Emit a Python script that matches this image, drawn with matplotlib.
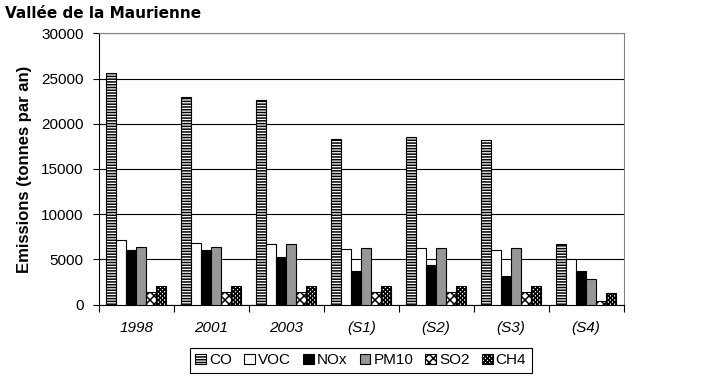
import numpy as np
import matplotlib
matplotlib.use("Agg")
import matplotlib.pyplot as plt

# categories and pollutant series (tonnes per year)
years = ["1998", "2001", "2003", "(S1)", "(S2)", "(S3)", "(S4)"]
pollutants = ["CO", "VOC", "NOx", "PM10", "SO2", "CH4"]
co = [25600, 22900, 22650, 18300, 18500, 18150, 6650]
voc = [7100, 6800, 6700, 6100, 6200, 6000, 5000]
nox = [6000, 6000, 5250, 3750, 4350, 3150, 3750]
pm10 = [6400, 6400, 6700, 6300, 6300, 6200, 2800]
so2 = [1400, 1400, 1400, 1350, 1350, 1350, 350]
ch4 = [2000, 2000, 2100, 2000, 2000, 2000, 1250]
yticks = [0, 5000, 10000, 15000, 20000, 25000, 30000]

series = [co, voc, nox, pm10, so2, ch4]
faces = ["white", "white", "black", "#969696", "white", "white"]
hatches = ["------", None, None, None, "xxxx", "xxxxxxxx"]

plt.rcParams["font.family"] = ["Liberation Sans", "DejaVu Sans"]
plt.rcParams["hatch.linewidth"] = 1.1

fig = plt.figure(figsize=(7.06, 3.78), dpi=100)
ax = fig.add_axes([99 / 706, 1 - 304.5 / 378, 524.5 / 706, 271.2 / 378])

x = np.arange(len(years))
bw = 1 / 7.5
for i, (vals, fc, h) in enumerate(zip(series, faces, hatches)):
    offs = (i - 2.5) * bw
    ax.bar(x + offs, vals, width=bw, color=fc, edgecolor="black",
           linewidth=0.8, hatch=h, label=pollutants[i], zorder=3)

ax.set_xlim(-0.5, len(years) - 0.5)
ax.set_ylim(0, 30000)
ax.set_yticks(yticks)
ax.set_yticklabels([str(v) for v in yticks], fontsize=11)
ax.yaxis.grid(True, color="black", linewidth=0.8, zorder=0)
ax.set_axisbelow(True)

# ticks at category boundaries, labels at centers
ax.set_xticks(np.arange(len(years) + 1) - 0.5)
ax.set_xticklabels([])
ax.set_xticks(x, minor=True)
ax.set_xticklabels(years, minor=True, fontsize=11, style="italic")
ax.tick_params(axis="x", which="major", length=5, width=0.8, direction="out")
ax.tick_params(axis="x", which="minor", length=0, pad=12)
ax.tick_params(axis="y", length=4, width=0.8, pad=7)

for s in ["left", "bottom"]:
    ax.spines[s].set_color("black")
    ax.spines[s].set_linewidth(0.8)
for s in ["top", "right"]:
    ax.spines[s].set_color("#808080")
    ax.spines[s].set_linewidth(0.8)

ax.set_ylabel("Emissions (tonnes par an)", fontsize=12, fontweight="bold", labelpad=7)

fig.text(5 / 706, 1 - 13 / 378, "Vallée de la Maurienne", fontsize=11, fontweight="bold",
         family="DejaVu Sans", va="center", ha="left")

leg = fig.legend(loc="upper left", bbox_to_anchor=(190 / 706, 1 - 348 / 378), ncol=6,
                 fontsize=11, frameon=True, fancybox=False, framealpha=1,
                 edgecolor="black", handlelength=0.7, handleheight=0.7,
                 handletextpad=0.2, columnspacing=0.8, borderpad=0.35,
                 borderaxespad=0)
leg.get_frame().set_linewidth(0.8)

fig.savefig("out.png", dpi=100)
